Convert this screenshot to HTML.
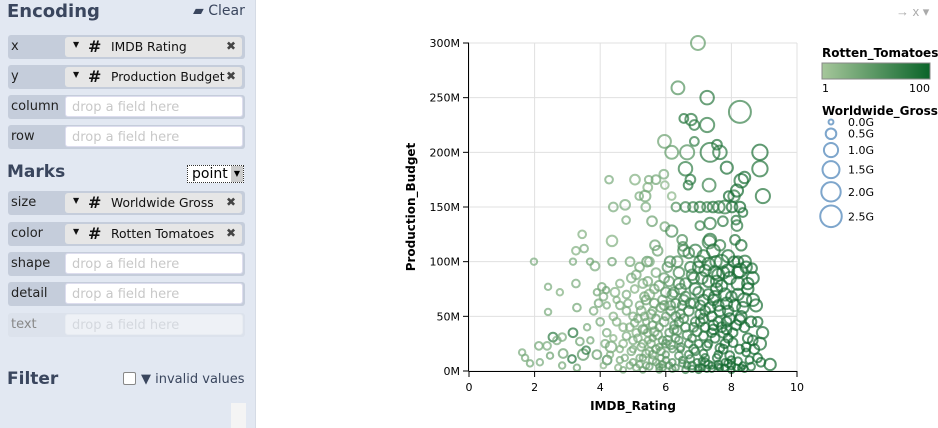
<!DOCTYPE html>
<html><head><meta charset="utf-8">
<style>
body{margin:0;width:938px;height:428px;overflow:hidden;font-family:"Liberation Sans","DejaVu Sans",sans-serif;background:#fff;position:relative}
#panel{position:absolute;left:0;top:0;width:255px;height:428px;background:#e2e8f2;border-right:1px solid #d5dbe5}
.h{position:absolute;left:7px;font-weight:bold;font-size:18px;color:#3a465e;font-family:"DejaVu Sans",sans-serif}
.row{position:absolute;left:8px;width:237px;height:24px;background:#c5cddb;border-radius:3px}
.row .lab{position:absolute;left:3px;top:4px;font-size:13px;color:#222;font-family:"DejaVu Sans",sans-serif}
.row .pill{position:absolute;left:57px;top:2px;width:177px;height:20px;background:#e6e6e6;border-radius:3px;font-size:12.3px;font-family:"DejaVu Sans",sans-serif;color:#111}
.row .drop{position:absolute;left:57px;top:1px;width:178px;height:21px;background:#fff;border:1px solid #dde;border-radius:3px;font-size:13px;color:#c8c8c8;font-family:"DejaVu Sans",sans-serif;box-sizing:border-box;padding:3px 0 0 6px}
.pill .car{position:absolute;left:8px;top:3px;font-size:8px}
.pill .hash{position:absolute;left:23px;top:0px;font-size:16px;font-weight:bold}
.pill .nm{position:absolute;left:46px;top:3px}
.pill .x{position:absolute;right:6px;top:2px;font-size:12px;color:#444;font-weight:bold}
</style></head><body>
<div id="panel">
<div class="h" style="top:1px">Encoding</div>
<div style="position:absolute;left:193px;top:3px;font-size:14px;color:#3a465e;font-family:'DejaVu Sans',sans-serif">▰ Clear</div>
<div class="row" style="top:35px"><span class="lab">x</span><div class="pill"><span class="car">▼</span><span class="hash">#</span><span class="nm">IMDB Rating</span><span class="x">✖</span></div></div>
<div class="row" style="top:65px"><span class="lab">y</span><div class="pill"><span class="car">▼</span><span class="hash">#</span><span class="nm">Production Budget</span><span class="x">✖</span></div></div>
<div class="row" style="top:95px"><span class="lab">column</span><div class="drop">drop a field here</div></div>
<div class="row" style="top:125px"><span class="lab">row</span><div class="drop">drop a field here</div></div>
<div class="h" style="top:162px;font-size:17px">Marks</div>
<div style="position:absolute;left:187px;top:165px;width:57px;height:18px;border:1px dotted #333;background:#fff;font-size:14px;font-family:'DejaVu Sans',sans-serif;box-sizing:border-box"><span style="position:absolute;left:4px;top:0">point</span><span style="position:absolute;right:0;top:0;width:12px;height:16px;background:#ccc;font-size:8px;text-align:center;line-height:16px">▼</span></div>
<div class="row" style="top:191px"><span class="lab">size</span><div class="pill"><span class="car">▼</span><span class="hash">#</span><span class="nm">Worldwide Gross</span><span class="x">✖</span></div></div>
<div class="row" style="top:222px"><span class="lab">color</span><div class="pill"><span class="car">▼</span><span class="hash">#</span><span class="nm">Rotten Tomatoes</span><span class="x">✖</span></div></div>
<div class="row" style="top:252px"><span class="lab">shape</span><div class="drop">drop a field here</div></div>
<div class="row" style="top:282px"><span class="lab">detail</span><div class="drop">drop a field here</div></div>
<div class="row" style="top:313px;background:#dce2ec"><span class="lab" style="color:#888">text</span><div class="drop" style="background:#eef1f6;border-color:#e8ecf2;color:#d4d8de">drop a field here</div></div>
<div class="h" style="top:369px;font-size:17px">Filter</div>
<div style="position:absolute;left:123px;top:372px;width:11px;height:11px;border:1px solid #888;background:#fff;border-radius:2px"></div>
<div style="position:absolute;left:141px;top:372px;font-size:13px;color:#3a465e;font-family:'DejaVu Sans',sans-serif">▼ invalid values</div>
<div style="position:absolute;left:231px;top:403px;width:15px;height:25px;background:#f4f4f4"></div>
</div>
<div style="position:absolute;left:896px;top:4px;font-size:13px;color:#aaa">→ x ▾</div>
<svg id="chart" width="938" height="428" style="position:absolute;left:0;top:0"></svg>
<script>
const ratings=[6.98,6.37,7.26,8.26,6.55,6.77,6.87,7.26,5.96,6.87,
6.18,6.65,7.35,7.56,7.65,8.87,8.87,7.86,6.6,6.75,
6.68,7.32,8.4,8.3,8.17,8.08,7.92,8.96,4.27,5.06,
5.48,5.7,5.94,5.45,5.97,4.4,5.19,5.37,6.18,4.76,
5.39,6.31,6.6,6.83,7.04,7.26,7.44,7.62,7.8,8.02,
8.26,8.35,4.79,5.58,5.97,6.18,7.04,7.35,7.74,8.14,
8.17,3.45,4.36,5.67,6.52,7.32,7.65,8.11,3.51,3.26,
1.98,3.17,3.69,3.84,4.36,4.91,5.43,6.13,7.04,7.53,
8.08,8.41,8.63,8.26,2.41,2.77,2.41,3.29,3.26,3.9,
4.05,4.18,1.62,1.71,1.86,2.16,2.47,2.56,2.84,2.87,
3.17,3.38,3.48,3.57,3.14,2.84,3.29,3.9,4.15,4.33,
4.21,2.13,2.38,2.68,4.1,4.3,4.4,4.5,4.6,4.7,
4.8,4.9,4.9,5.0,4.2,4.5,4.8,4.6,4.95,5.1,
5.1,5.2,5.2,5.3,5.3,5.4,5.4,5.5,5.5,5.6,
5.6,5.7,5.7,5.8,5.8,5.9,5.9,6.0,6.0,5.2,
5.5,5.75,5.35,5.65,5.95,5.05,5.45,5.85,5.15,6.1,
6.1,6.2,6.2,6.3,6.3,6.4,6.4,6.5,6.5,6.6,
6.6,6.7,6.7,6.8,6.8,6.9,6.9,6.95,6.15,6.35,
6.55,6.75,6.25,6.45,6.65,6.85,6.05,6.5,6.9,7.0,
7.05,7.1,7.1,7.2,7.2,7.3,7.3,7.4,7.4,7.5,
7.5,7.6,7.6,7.7,7.7,7.8,7.8,7.9,7.9,7.15,
7.35,7.55,7.75,7.95,7.25,7.65,7.45,7.85,7.05,8.0,
8.05,8.1,8.15,8.2,8.25,8.3,8.35,8.4,8.5,8.55,
8.6,8.7,8.75,8.9,8.95,9.18,8.87,8.66,8.8,8.45,
8.2,8.65,8.3,5.3,6.6,7.0,8.0,5.8,4.7,6.3,
5.6,5.9,6.2,6.4,6.7,6.9,7.2,7.4,7.6,7.8,
5.4,5.7,6.0,6.3,6.6,7.0,7.3,7.7,8.0,8.4,
5.5,5.9,6.2,6.5,6.8,7.1,7.3,7.6,7.9,8.3,
5.0,5.3,5.6,6.0,6.4,6.75,7.15,7.55,7.95,8.45,
4.6,4.95,5.25,5.55,5.85,6.15,6.45,6.85,7.25,7.65,
8.05,8.45,4.8,5.15,5.45,5.75,6.05,6.35,6.65,6.95,
7.15,7.45,7.75,8.15,4.7,5.05,5.35,5.65,5.95,6.25,
6.55,6.85,7.15,7.45,7.85,8.25,8.65,5.25,5.55,5.85,
6.15,6.45,6.75,7.05,7.35,7.65,7.95,8.35,4.85,5.0,
5.35,5.65,5.95,6.25,6.55,6.85,7.15,7.5,7.85,8.2,
5.1,5.45,5.8,6.1,6.45,6.8,7.2,7.55,7.9,8.5,
4.55,4.75,5.0,5.2,5.4,5.6,5.8,6.0,5.3,5.7,
3.6,3.8,4.0,4.2,4.4,4.6,3.7,4.1,4.45,3.95,
7.0,7.3,7.6,7.9,8.2,8.5,6.7,6.4,7.45,7.75,
7.0,7.2,7.4,7.6,7.8,8.0,8.2,8.4,8.6,8.8];
const budgets=[300,259,250,237,231,230,225,225,210,210,
200,200,200,207,200,200,185,186,185,175,
170,170,177,174,165,160,160,160,175,175,
175,175,180,168,170,150,160,160,160,152,
150,150,150,150,150,150,150,150,150,150,
150,145,138,137,132,128,133,135,137,138,
133,125,119,115,114,118,115,120,112,110,
100,100,100,96,100,100,100,100,100,100,
100,100,94,92,77,72,54,58,80,72,
77,74,17,12,7,8,14,31,31,16,
35,27,15,19,11,5,3,15,25,22,
10,23,23,28,5,15,30,45,10,25,
55,5,40,20,60,65,70,80,85,3,
35,12,60,25,80,45,5,18,70,30,
55,8,90,40,22,65,3,50,15,95,
100,110,50,75,85,75,28,12,48,5,
35,70,20,50,3,90,28,60,10,40,
80,15,55,2,30,75,45,8,60,100,
110,95,42,20,5,62,95,120,110,25,
60,3,85,40,12,70,25,50,5,90,
30,60,15,40,100,8,70,30,55,105,
120,75,20,85,2,3,110,45,45,10,
35,60,3,80,20,50,5,65,30,10,
45,20,60,8,35,6,25,65,45,95,
100,85,115,1,1,1,1,1,1,30,
42,28,8,45,25,18,55,35,45,25,
65,48,72,62,68,72,82,78,68,40,
4,6,2,7,5,9,6,4,7,3,
8,12,15,10,14,11,16,12,14,17,
20,18,22,25,18,24,22,20,23,21,
26,22,32,30,35,33,28,37,33,36,
32,38,35,42,40,44,38,36,45,38,
48,40,48,42,38,47,28,55,52,58,
55,52,62,52,58,55,48,58,62,50,
68,62,60,72,65,85,65,68,62,70,
88,82,78,82,75,88,92,82,92,75,
3,12,28,6,16,10,4,25,38,20,
40,55,45,35,50,60,28,68,72,62,
95,98,88,105,90,80,108,80,65,90,
3,8,2,6,3,5,9,2,4,12];
const grosses=[0.96,0.8,0.9,2.6,0.3,0.6,0.4,1.0,0.8,0.3,
0.8,1.0,1.9,0.4,0.9,1.2,1.2,0.7,0.9,0.4,
0.3,0.8,0.6,0.9,0.7,0.6,0.4,1.0,0.2,0.4,
0.2,0.3,0.3,0.3,0.2,0.3,0.2,0.5,0.2,0.4,
0.3,0.3,0.4,0.4,0.5,0.4,0.5,0.6,0.8,0.5,
0.5,0.3,0.2,0.4,0.3,0.6,0.3,0.6,0.4,0.3,
0.5,0.2,0.5,0.4,0.3,0.8,0.5,0.4,0.2,0.2,
0.1,0.1,0.1,0.3,0.2,0.3,0.4,0.5,0.6,0.6,
0.5,0.7,0.4,0.9,0.1,0.1,0.1,0.2,0.2,0.1,
0.2,0.1,0.1,0.1,0.1,0.1,0.1,0.3,0.2,0.3,
0.3,0.2,0.5,0.2,0.2,0.1,0.1,0.3,0.2,0.5,
0.3,0.2,0.2,0.2,0.05,0.1,0.1,0.2,0.1,0.2,
0.2,0.1,0.2,0.1,0.1,0.1,0.2,0.2,0.3,0.1,
0.2,0.1,0.2,0.2,0.3,0.1,0.1,0.2,0.4,0.1,
0.2,0.1,0.3,0.2,0.1,0.3,0.1,0.2,0.1,0.3,
0.3,0.4,0.2,0.3,0.4,0.2,0.1,0.1,0.2,0.1,
0.2,0.4,0.1,0.3,0.1,0.5,0.2,0.3,0.1,0.3,
0.5,0.2,0.4,0.1,0.2,0.6,0.3,0.1,0.3,0.5,
0.6,0.5,0.2,0.1,0.1,0.4,0.4,0.4,0.7,0.2,
0.4,0.1,0.6,0.3,0.2,0.5,0.2,0.4,0.1,0.8,
0.3,0.5,0.2,0.4,0.9,0.1,0.7,0.3,0.5,0.7,
0.7,0.6,0.3,0.7,0.1,0.1,0.8,0.4,0.3,0.2,
0.3,0.6,0.1,0.8,0.3,0.5,0.1,0.9,0.4,0.2,
0.5,0.4,0.7,0.3,0.6,0.6,0.7,0.7,0.4,0.6,
0.5,0.7,0.5,0.05,0.1,0.1,0.1,0.05,0.05,0.2,
0.2,0.2,0.1,0.3,0.2,0.2,0.4,0.3,0.4,0.3,
0.3,0.2,0.4,0.3,0.4,0.5,0.6,0.6,0.5,0.4,
0.1,0.1,0.1,0.1,0.2,0.1,0.2,0.1,0.2,0.1,
0.1,0.1,0.2,0.1,0.2,0.2,0.2,0.2,0.3,0.2,
0.1,0.2,0.2,0.2,0.2,0.3,0.2,0.3,0.3,0.3,
0.3,0.3,0.2,0.2,0.2,0.3,0.3,0.3,0.3,0.3,
0.3,0.4,0.4,0.4,0.2,0.2,0.2,0.3,0.3,0.3,
0.3,0.3,0.4,0.4,0.4,0.5,0.4,0.3,0.3,0.3,
0.3,0.3,0.4,0.4,0.5,0.5,0.5,0.6,0.2,0.2,
0.3,0.3,0.3,0.4,0.4,0.5,0.5,0.6,0.6,0.6,
0.3,0.3,0.4,0.4,0.5,0.5,0.6,0.6,0.7,0.6,
0.1,0.1,0.2,0.1,0.2,0.2,0.1,0.2,0.3,0.2,
0.1,0.2,0.2,0.2,0.2,0.2,0.1,0.2,0.3,0.2,
0.6,0.7,0.7,0.7,0.6,0.6,0.5,0.5,0.5,0.7,
0.1,0.2,0.1,0.2,0.1,0.2,0.2,0.1,0.2,0.3];
const tomatoes=[45,55,80,70,85,80,80,75,40,75,
45,55,80,85,80,90,85,90,75,80,
85,70,90,90,95,80,95,85,30,25,
30,35,30,25,20,30,30,35,20,30,
30,60,70,75,80,70,85,80,75,90,
95,90,30,40,35,60,70,75,80,85,
80,25,25,40,60,70,75,85,30,25,
30,30,35,30,40,35,45,60,70,80,
90,85,90,95,30,25,30,35,30,35,
35,40,30,30,35,30,40,80,30,40,
85,40,50,80,90,35,40,45,30,35,
60,35,30,30,20,25,20,25,30,20,
30,35,25,30,30,25,30,25,30,30,
25,35,30,25,30,35,40,30,25,40,
35,45,30,40,35,40,50,45,50,35,
30,40,30,35,45,25,30,40,30,55,
50,55,55,60,60,65,60,65,65,70,
70,70,75,75,75,80,75,80,50,60,
65,75,55,60,70,75,50,60,75,80,
80,80,85,85,85,85,85,90,90,85,
90,90,90,90,85,90,90,95,90,80,
80,85,90,90,85,90,85,95,80,95,
95,90,95,90,95,95,95,90,95,95,
95,95,90,95,90,95,90,90,95,90,
90,95,90,40,70,85,95,50,30,55,
45,50,60,65,70,80,85,90,85,95,
40,45,50,60,65,80,85,90,90,95,
45,50,55,65,75,80,85,90,95,95,
35,40,40,50,60,70,85,90,95,95,
25,30,35,35,45,50,60,75,85,90,
95,95,30,30,35,40,50,55,65,75,
85,90,90,95,25,30,35,40,45,55,
65,75,85,90,95,95,95,30,35,40,
50,60,70,80,85,90,95,90,30,30,
35,40,45,55,65,75,85,85,90,90,
30,35,40,50,60,70,80,85,90,95,
25,30,30,35,35,40,45,50,40,45,
30,30,35,30,25,30,35,30,25,35,
80,85,85,90,90,95,70,60,90,90,
85,90,85,90,95,95,95,95,90,95];
const xTicks=[0,2,4,6,8,10];
const yTicks=[0,50,100,150,200,250,300];
const yTickLabels=["0M","50M","100M","150M","200M","250M","300M"];
const legendGross=[0,0.5,1.0,1.5,2.0,2.5];
const legendGrossLabels=["0.0G","0.5G","1.0G","1.5G","2.0G","2.5G"];

const NS="http://www.w3.org/2000/svg";
const svg=document.getElementById('chart');
const X0=469,X1=797,Y0=371,Y1=43;
const xs=v=>X0+(v/10)*(X1-X0);
const ys=v=>Y0-(v/300)*(Y0-Y1);
const rs=g=>Math.sqrt(6+44*g);
const c0=[166,199,155],c1=[10,100,41];
const cs=t=>{const f=(t-1)/99;return 'rgb('+c0.map((a,i)=>Math.round(a+(c1[i]-a)*f)).join(',')+')';};
function mk(tag,attrs,parent){const e=document.createElementNS(NS,tag);for(const k in attrs)e.setAttribute(k,attrs[k]);(parent||svg).appendChild(e);return e;}
xTicks.forEach(t=>{const l=mk('line',{x1:xs(t),x2:xs(t),y1:Y1,y2:Y0,stroke:'#e0e0e0'});

});
yTicks.forEach(t=>{const l=mk('line',{x1:X0,x2:X1,y1:ys(t),y2:ys(t),stroke:'#e0e0e0'});

});
const pg=mk('g',{});


for(let i=0;i<ratings.length;i++){
 const c=mk('circle',{cx:xs(ratings[i]),cy:ys(budgets[i]),r:rs(grosses[i]),fill:'none',stroke:cs(tomatoes[i]),'stroke-width':2,'stroke-opacity':0.7},pg);
 
 
}
const xa=mk('line',{x1:X0,x2:X1+0.5,y1:Y0+0.5,y2:Y0+0.5,stroke:'#000'});


const ya=mk('line',{x1:X0-0.5,x2:X0-0.5,y1:Y1,y2:Y0,stroke:'#000'});


xTicks.forEach(t=>{mk('line',{x1:xs(t),x2:xs(t),y1:Y0,y2:Y0+6,stroke:'#000'});
 const tx=mk('text',{x:xs(t),y:Y0+20,'text-anchor':'middle','font-size':11,'font-family':'DejaVu Sans,sans-serif'});tx.textContent=t;
 
 });
yTicks.forEach((t,i)=>{mk('line',{x1:X0-6,x2:X0,y1:ys(t),y2:ys(t),stroke:'#000'});
 const tx=mk('text',{x:X0-9,y:ys(t)+4,'text-anchor':'end','font-size':11,'font-family':'DejaVu Sans,sans-serif'});tx.textContent=yTickLabels[i];
 
 });
const xt=mk('text',{x:633,y:410,'text-anchor':'middle','font-size':12,'font-weight':'bold','font-family':'DejaVu Sans,sans-serif'});xt.textContent='IMDB_Rating';


const yt=mk('text',{x:0,y:0,'text-anchor':'middle','font-size':12,'font-weight':'bold','font-family':'DejaVu Sans,sans-serif',transform:'translate(415,207) rotate(-90)'});yt.textContent='Production_Budget';


const defs=mk('defs',{});const gr=mk('linearGradient',{id:'rtg'},defs);
mk('stop',{offset:'0',"stop-color":cs(1)},gr);mk('stop',{offset:'1',"stop-color":cs(100)},gr);
const ct=mk('text',{x:822,y:57,'font-size':12,'font-weight':'bold','font-family':'DejaVu Sans,sans-serif'});ct.textContent='Rotten_Tomatoes';


const cb=mk('rect',{x:822,y:63,width:108,height:16,fill:'url(#rtg)',stroke:'#888','stroke-width':1});


const l1=mk('text',{x:822,y:92,'font-size':11,'font-family':'DejaVu Sans,sans-serif'});l1.textContent='1';


const l2=mk('text',{x:930,y:92,'text-anchor':'end','font-size':11,'font-family':'DejaVu Sans,sans-serif'});l2.textContent='100';


const st=mk('text',{x:822,y:115,'font-size':12,'font-weight':'bold','font-family':'DejaVu Sans,sans-serif'});st.textContent='Worldwide_Gross';


let yy=122,prevR=0;
legendGross.forEach((g,i)=>{const r=rs(g);if(i>0)yy+=prevR+r+4;
 const c=mk('circle',{cx:831,cy:yy,r:r,fill:'none',stroke:'#7ea6cc','stroke-width':2});
 
 
 const t=mk('text',{x:848,y:yy+4,'font-size':11,'font-family':'DejaVu Sans,sans-serif'});t.textContent=legendGrossLabels[i];
 
 
 prevR=r;});
</script>
</body></html>
